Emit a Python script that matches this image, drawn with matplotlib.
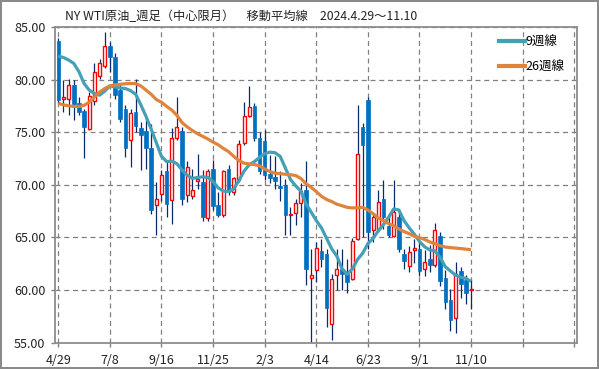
import numpy as np
import matplotlib
matplotlib.use("Agg")
import matplotlib.pyplot as plt
from matplotlib.lines import Line2D

plt.rcParams["font.family"] = ["Noto Sans CJK JP", "DejaVu Sans"]

title_text = "NY WTI原油_週足（中心限月）　移動平均線　2024.4.29～11.10"

# weekly OHLC, week 0 = 4/29
opens = [83.70, 78.14, 78.20, 79.50, 77.80, 77.00, 75.30, 77.95, 80.37, 81.28,
         83.22, 82.17, 79.00, 77.25, 74.24, 76.94, 75.44, 75.10, 73.54, 68.10,
         69.16, 71.30, 68.59, 74.40, 75.10, 69.00, 68.97, 70.40, 70.27, 66.87,
         71.50, 68.05, 67.16, 71.50, 69.32, 70.43, 73.98, 76.52, 77.50, 74.49,
         74.14, 71.06, 70.70, 69.89, 69.95, 67.10, 67.35, 68.30, 69.48, 61.13,
         61.86, 63.67, 63.44, 56.78, 61.38, 61.95, 61.54, 61.06, 64.81, 75.50,
         78.05, 65.67, 65.76, 68.68, 66.08, 65.13, 66.94, 63.44, 62.24, 63.80,
         63.92, 62.00, 62.97, 62.33, 65.09, 61.16, 59.00, 57.35, 61.79, 60.97,
         60.00]
highs = [83.92, 79.95, 80.10, 79.95, 78.30, 77.25, 78.84, 81.60, 82.00, 84.56,
         83.60, 82.50, 79.50, 77.57, 77.25, 80.10, 75.98, 76.46, 75.80, 70.27,
         71.38, 72.33, 75.35, 78.37, 75.50, 72.30, 71.54, 72.97, 71.38, 71.54,
         72.33, 69.30, 71.45, 71.86, 70.75, 74.24, 77.89, 79.38, 77.73, 75.03,
         75.19, 72.80, 72.70, 71.30, 70.59, 67.90, 68.60, 70.20, 72.24, 63.92,
         64.55, 64.80, 63.92, 61.48, 63.92, 63.92, 62.97, 64.90, 77.60, 75.83,
         78.36, 67.35, 69.48, 70.43, 67.20, 70.43, 67.73, 63.90, 64.20, 64.87,
         64.71, 63.76, 64.24, 66.36, 65.50, 61.90, 60.11, 62.65, 62.17, 61.40,
         60.90]
lows = [77.80, 76.90, 76.60, 76.14, 76.60, 72.50, 75.20, 77.60, 80.10, 81.06,
        80.75, 78.20, 75.98, 72.65, 71.65, 75.03, 71.44, 71.50, 67.19, 65.19,
        68.46, 66.94, 66.30, 74.24, 68.05, 68.36, 68.60, 69.60, 66.60, 66.60,
        67.57, 66.90, 66.90, 68.99, 68.99, 70.27, 73.76, 76.46, 74.20, 71.00,
        70.43, 70.20, 69.60, 68.50, 65.25, 65.20, 66.20, 66.94, 60.50, 55.00,
        60.75, 62.20, 56.50, 55.20, 59.95, 60.00, 59.70, 60.90, 64.70, 65.00,
        63.92, 64.55, 65.50, 65.80, 65.00, 65.00, 63.60, 62.00, 61.70, 62.60,
        61.29, 61.29, 61.70, 62.17, 60.40, 58.20, 56.14, 55.89, 59.25, 58.68,
        58.20]
closes = [78.05, 78.30, 79.50, 77.70, 76.90, 75.50, 78.40, 80.68, 81.54, 83.22,
          82.17, 78.52, 76.24, 73.50, 76.78, 75.57, 74.71, 73.50, 67.63, 68.68,
          70.97, 68.14, 74.40, 75.50, 68.68, 71.70, 69.48, 70.55, 66.90, 71.29,
          67.95, 67.10, 71.29, 69.32, 70.60, 73.92, 76.55, 77.35, 74.49, 71.32,
          70.90, 70.65, 70.36, 69.73, 67.10, 67.20, 68.30, 69.38, 62.00, 61.44,
          63.98, 62.97, 58.27, 61.00, 61.95, 61.54, 60.75, 64.62, 72.97, 73.76,
          65.50, 66.94, 68.36, 66.94, 65.19, 67.41, 63.86, 62.71, 63.60, 63.98,
          61.79, 62.65, 62.33, 65.73, 60.84, 58.84, 57.16, 61.48, 60.59, 59.70,
          60.05]

# moving averages as drawn
ma9 = [82.24, 82.10, 81.86, 81.54, 80.75, 79.63, 79.00, 78.68, 78.52, 78.90,
       79.40, 79.30, 79.20, 79.15, 78.95, 78.60, 77.60, 76.50, 75.30, 74.00,
       72.70, 72.20, 72.25, 72.00, 71.40, 70.90, 70.60, 70.70, 70.75, 70.70,
       70.30, 69.70, 69.40, 69.35, 69.60, 70.40, 71.30, 71.90, 72.20, 72.60,
       72.95, 73.10, 73.05, 72.70, 71.60, 70.50, 69.90, 69.40, 68.20, 67.40,
       66.60, 65.90, 64.90, 63.90, 63.20, 62.00, 61.50, 62.00, 62.90, 63.50,
       64.40, 64.90, 65.60, 66.20, 66.90, 67.70, 67.60, 66.60, 65.90, 65.30,
       64.60, 64.10, 63.80, 63.70, 63.10, 62.20, 61.80, 61.40, 61.20, 61.10,
       60.80]
ma26 = [77.75, 77.60, 77.50, 77.45, 77.45, 77.55, 77.85, 78.35, 78.80, 79.15,
        79.40, 79.50, 79.55, 79.60, 79.63, 79.62, 79.40, 79.00, 78.60, 78.10,
        77.85, 77.45, 77.10, 76.60, 75.90, 75.50, 75.15, 74.85, 74.60, 74.35,
        74.05, 73.80, 73.45, 73.15, 72.70, 72.30, 72.05, 71.98, 71.92, 71.80,
        71.50, 71.25, 71.10, 71.05, 71.00, 70.95, 70.88, 70.60, 70.10, 69.75,
        69.35, 68.90, 68.60, 68.40, 68.15, 68.00, 67.85, 67.80, 67.80, 67.85,
        67.60, 67.25, 66.85, 66.60, 66.30, 66.10, 65.80, 65.55, 65.35, 65.10,
        64.97, 64.80, 64.56, 64.40, 64.20, 64.08, 64.02, 63.98, 63.93, 63.88,
        63.82]

tick_weeks = [0, 10, 20, 30, 40, 50, 60, 70, 80, 90, 100]
tick_labels = ["4/29", "7/8", "9/16", "11/25", "2/3", "4/14", "6/23", "9/1", "11/10", "", ""]
y_ticks = [55, 60, 65, 70, 75, 80, 85]

BLUE = "#0070C0"
RED = "#FF0000"
WICK = "#0B2A6B"
TEAL = "#45A0B6"
ORANGE = "#E0833C"
GRID = "#808080"


def main() -> None:
    fig = plt.figure(figsize=(5.99, 3.69), dpi=100)
    fig.patch.set_edgecolor("#8a8a8a")
    fig.patch.set_linewidth(1.5)
    ax = fig.add_axes([0.0918, 0.0718, 0.8710, 0.855])

    o = np.array(opens)
    h = np.array(highs)
    l = np.array(lows)
    c = np.array(closes)
    x = np.arange(len(o))

    ax.vlines(x, l, h, color=WICK, linewidth=0.9, zorder=2)

    up = c >= o
    bottom = np.minimum(o, c)
    height = np.maximum(np.abs(c - o), 0.12)
    ax.bar(x[~up], height[~up], bottom=bottom[~up], width=0.68,
           color=BLUE, edgecolor=BLUE, linewidth=0.5, zorder=3)
    ax.bar(x[up], height[up], bottom=bottom[up], width=0.58,
           color="white", edgecolor=RED, linewidth=1.0, zorder=3)

    ax.plot(x, ma9, color=TEAL, linewidth=2.3, solid_capstyle="butt", zorder=4)
    ax.plot(x, ma26, color=ORANGE, linewidth=2.3, solid_capstyle="butt", zorder=4)

    ax.set_xlim(-0.64, 100.47)
    ax.set_ylim(55, 85)
    ax.set_xticks(tick_weeks)
    ax.set_xticklabels(tick_labels)
    ax.set_yticks(y_ticks)
    ax.set_yticklabels([f"{v:.2f}" for v in y_ticks])
    ax.tick_params(axis="both", colors=GRID, labelcolor="#222222",
                   labelsize=9, length=3, width=1)
    ax.tick_params(axis="x", pad=5.5)
    ax.tick_params(axis="y", pad=4)

    ax.grid(True, color=GRID, linestyle=(0, (4, 3)), linewidth=0.9)
    ax.set_axisbelow(True)
    for s in ax.spines.values():
        s.set_color("#8c8c8c")
        s.set_linewidth(1.3)

    handles = [Line2D([], [], color=TEAL, linewidth=3),
               Line2D([], [], color=ORANGE, linewidth=3)]
    ax.legend(handles, ["9週線", "26週線"], loc="upper right",
              bbox_to_anchor=(0.994, 1.0), frameon=False, fontsize=9,
              handlelength=2.1, handletextpad=0.05, labelspacing=0.95,
              borderaxespad=0.3)

    fig.text(0.1085, 0.955, title_text, fontsize=8.8, color="#222222",
             ha="left", va="center")

    fig.savefig("out.png", dpi=100)
    plt.close(fig)


if __name__ == "__main__":
    main()
